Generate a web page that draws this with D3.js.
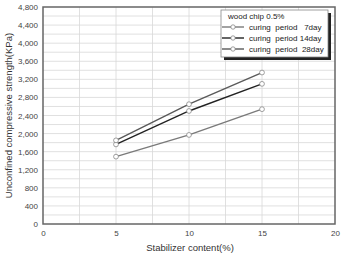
<!DOCTYPE html>
<html><head><meta charset="utf-8">
<script src="https://cdn.jsdelivr.net/npm/d3@7"></script>
<style>body{margin:0;background:#fff}svg{display:block}</style>
</head><body>
<svg id="c" width="343" height="255"></svg>
<script>
const xValues = [5, 10, 15];
const series7 = [1490, 1970, 2540];
const series14 = [1760, 2500, 3100];
const series28 = [1850, 2650, 3350];
const seriesNames = ["curing  period   7day", "curing  period 14day", "curing  period  28day"];
const seriesColors = ["#7a7a7a", "#222222", "#5a5a5a"];
const yTicks = [0,400,800,1200,1600,2000,2400,2800,3200,3600,4000,4400,4800];
const xTicks = [0,5,10,15,20];
const legendTitle = "wood chip 0.5%";

const svg = d3.select("#c");
const L = 43, R = 335, T = 7, B = 224;
const x = d3.scaleLinear().domain([0,20]).range([L,R]);
const y = d3.scaleLinear().domain([0,4800]).range([B,T]);
const FF = "Liberation Sans, Arial, sans-serif";

// grid
const g = svg.append("g");
g.selectAll("line.h").data(d3.range(200,4800,200)).enter().append("line")
  .attr("x1",L).attr("x2",R).attr("y1",d=>y(d)).attr("y2",d=>y(d))
  .attr("stroke","#d8d8d8").attr("stroke-width",0.8);
g.selectAll("line.v").data(d3.range(2.5,20,2.5)).enter().append("line")
  .attr("y1",T).attr("y2",B).attr("x1",d=>x(d)).attr("x2",d=>x(d))
  .attr("stroke","#d8d8d8").attr("stroke-width",0.8);

// axes
const fmt = d3.format(",");
const ya = svg.append("g").attr("transform",`translate(${L},0)`)
  .call(d3.axisLeft(y).tickValues(yTicks).tickFormat(fmt).tickSize(0).tickPadding(5));
ya.select(".domain").remove();
ya.selectAll("text").attr("font-family",FF).attr("font-size",8).attr("fill","#444");
const xa = svg.append("g").attr("transform",`translate(0,${B})`)
  .call(d3.axisBottom(x).tickValues(xTicks).tickSize(0).tickPadding(6));
xa.select(".domain").remove();
xa.selectAll("text").attr("font-family",FF).attr("font-size",8).attr("fill","#444");

// frame
svg.append("rect").attr("x",L).attr("y",T).attr("width",R-L).attr("height",B-T)
  .attr("fill","none").attr("stroke","#666").attr("stroke-width",1.5);

// series
const all = [series7, series14, series28];
const line = d3.line().x((d,i)=>x(xValues[i])).y(d=>y(d));
all.forEach((s,k)=>{
  svg.append("path").datum(s).attr("d",line).attr("fill","none")
    .attr("stroke",seriesColors[k]).attr("stroke-width",1.4);
});
all.forEach((s,k)=>{
  svg.selectAll(null).data(s).enter().append("circle")
    .attr("cx",(d,i)=>x(xValues[i])).attr("cy",d=>y(d)).attr("r",2.4)
    .attr("fill","#fff").attr("stroke","#888").attr("stroke-width",0.8);
});

// legend
const lx = 221, ly = 10, lw = 107, lh = 47;
svg.append("rect").attr("x",lx+3).attr("y",ly+3).attr("width",lw).attr("height",lh).attr("fill","#222");
svg.append("rect").attr("x",lx).attr("y",ly).attr("width",lw).attr("height",lh)
  .attr("fill","#fff").attr("stroke","#888").attr("stroke-width",0.8);
svg.append("text").attr("x",lx+7).attr("y",ly+9).text(legendTitle)
  .attr("font-family",FF).attr("font-size",8).attr("fill","#222");
seriesNames.forEach((n,k)=>{
  const yy = ly + 17 + k*11;
  svg.append("line").attr("x1",lx+1).attr("x2",lx+23).attr("y1",yy).attr("y2",yy)
    .attr("stroke",seriesColors[k]).attr("stroke-width",1.4);
  svg.append("circle").attr("cx",lx+12).attr("cy",yy).attr("r",2.2)
    .attr("fill","#fff").attr("stroke","#888").attr("stroke-width",0.8);
  svg.append("text").attr("x",lx+28).attr("y",yy+2.9).text(n)
    .style("white-space","pre")
    .attr("font-family",FF).attr("font-size",8).attr("fill","#222");
});

// titles
svg.append("text").attr("transform",`translate(12,${(T+B)/2}) rotate(-90)`)
  .attr("text-anchor","middle").text("Unconfined compressive strength(KPa)")
  .attr("font-family",FF).attr("font-size",9.5).attr("fill","#333");
svg.append("text").attr("x",190).attr("y",251).attr("text-anchor","middle").text("Stabilizer content(%)")
  .attr("font-family",FF).attr("font-size",9.5).attr("fill","#333");
</script>
</body></html>
